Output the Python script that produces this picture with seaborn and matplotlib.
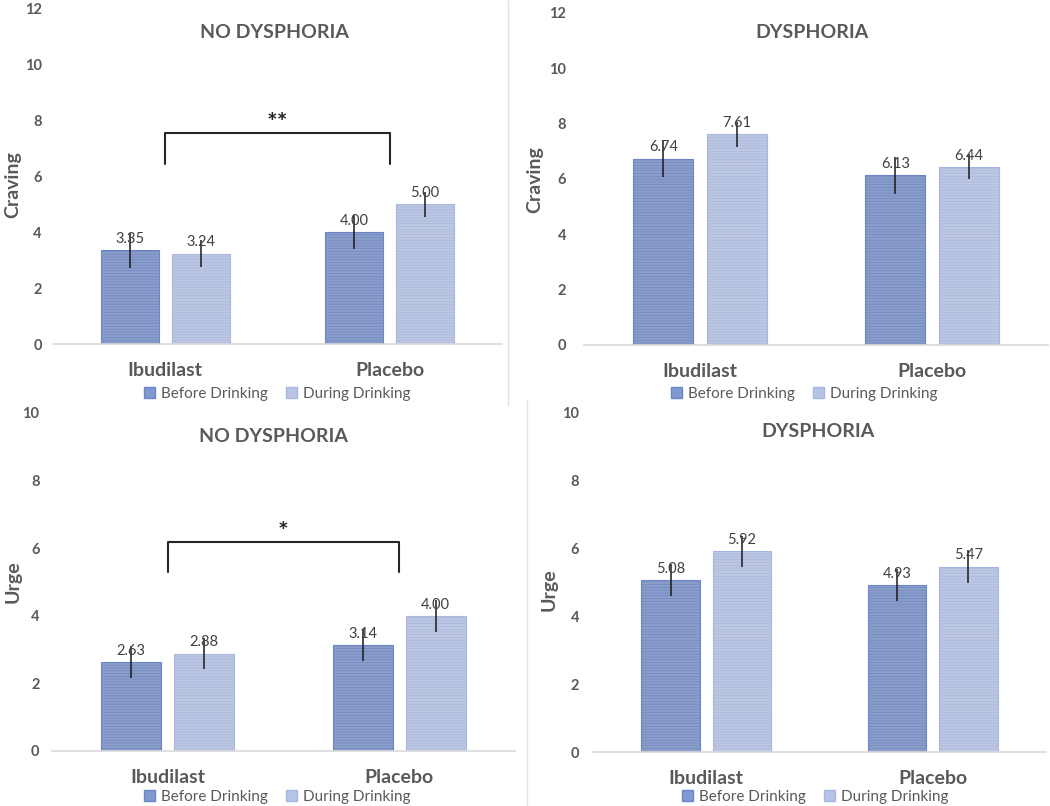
import matplotlib
matplotlib.use("Agg")
import matplotlib.pyplot as plt
import pandas as pd
import seaborn as sns
from matplotlib.patches import Patch

drugs = ["Ibudilast", "Placebo"]
timepoints = ["Before Drinking", "During Drinking"]

# one list per timepoint, values in drug order (Ibudilast, Placebo)
craving_no_dys = [[3.35, 4.00], [3.24, 5.00]]
craving_no_dys_err = [[0.64, 0.61], [0.49, 0.46]]
craving_dys = [[6.74, 6.13], [7.61, 6.44]]
craving_dys_err = [[0.68, 0.68], [0.46, 0.45]]
urge_no_dys = [[2.63, 3.14], [2.88, 4.00]]
urge_no_dys_err = [[0.47, 0.48], [0.46, 0.48]]
urge_dys = [[5.08, 4.93], [5.92, 5.47]]
urge_dys_err = [[0.48, 0.47], [0.46, 0.48]]

BEFORE = "#8199D2"
DURING = "#B7C4E7"
BEFORE_EDGE = "#6A86C6"
DURING_EDGE = "#A6B6E0"
GREY = "#595959"

W, H = 1050, 806

sns.set_theme(style="white")
plt.rcParams["font.family"] = ["Lato", "DejaVu Sans"]
plt.rcParams["hatch.linewidth"] = 0.45


def make_df(vals, errs):
    rows = []
    for t, tv, te in zip(timepoints, vals, errs):
        for d, v, e in zip(drugs, tv, te):
            rows.append({"Drug": d, "Time": t, "value": v, "err": e})
    return pd.DataFrame(rows)


def px(x, y):
    return x / W, 1 - y / H


def draw_panel(ax, df, ymax, ypad):
    sns.barplot(data=df, x="Drug", y="value", hue="Time", order=drugs,
                hue_order=timepoints, palette=[BEFORE, DURING], width=0.63,
                gap=0.18, errorbar=None, legend=False, ax=ax)
    bars = list(ax.containers)
    for cont, tp, ec in zip(bars, timepoints, [BEFORE_EDGE, DURING_EDGE]):
        sub = df[df.Time == tp].set_index("Drug").loc[drugs]
        for bar, e in zip(cont, sub["err"]):
            bar.set_edgecolor(ec)
            bar.set_linewidth(0.8)
            bar.set_hatch("------")
            ax.errorbar(bar.get_x() + bar.get_width() / 2, bar.get_height(),
                        yerr=e, color="#1a1a1a", lw=1.1, capsize=0)
        ax.bar_label(cont, fmt="%.2f", padding=3, fontsize=10.5, color="#404040")
    ax.set_xlim(-0.5, 1.5)
    ax.set_ylim(0, ymax)
    ax.set_yticks(range(0, ymax + 1, 2))
    ax.set_xlabel("")
    ax.set_ylabel("")
    for s in ["top", "left", "right"]:
        ax.spines[s].set_visible(False)
    ax.spines["bottom"].set_color("#D9D9D9")
    ax.spines["bottom"].set_linewidth(1.2)
    ax.tick_params(axis="y", length=0, pad=ypad, labelsize=10.5, labelcolor=GREY)
    ax.tick_params(axis="x", length=0, pad=13, labelsize=14, labelcolor=GREY)
    for lab in ax.get_xticklabels() + ax.get_yticklabels():
        lab.set_fontweight("bold")


def bracket(ax, y_top, y_bot, stars, y_star):
    ax.plot([0, 0, 1, 1], [y_bot, y_top, y_top, y_bot], color="#262626", lw=1.5)
    ax.text(0.5, y_star, stars, ha="center", va="center", fontsize=18,
            fontweight="bold", color="#262626")


fig = plt.figure(figsize=(W / 100, H / 100), dpi=100)

# axes boxes in pixels: left, right, baseline, top
boxes = [(53, 502, 344, 9), (584, 1048, 345, 13), (52, 515, 751, 413), (593, 1046, 752, 413)]
axes = []
for l, r, b, t in boxes:
    axes.append(fig.add_axes([l / W, 1 - b / H, (r - l) / W, (b - t) / H]))

draw_panel(axes[0], make_df(craving_no_dys, craving_no_dys_err), 12, 8)
draw_panel(axes[1], make_df(craving_dys, craving_dys_err), 12, 13)
draw_panel(axes[2], make_df(urge_no_dys, urge_no_dys_err), 10, 9)
draw_panel(axes[3], make_df(urge_dys, urge_dys_err), 10, 10)

bracket(axes[0], 7.55, 6.45, "**", 7.9)
bracket(axes[2], 6.18, 5.3, "*", 6.45)

titles = [("NO DYSPHORIA", 274, 32), ("DYSPHORIA", 812, 32),
          ("NO DYSPHORIA", 273, 437), ("DYSPHORIA", 818, 432)]
for txt, x, y in titles:
    fig.text(*px(x, y), txt, ha="center", va="center", fontsize=14,
             fontweight="bold", color=GREY)

ylabels = [("Craving", 13, 185), ("Craving", 535, 180), ("Urge", 13, 582), ("Urge", 549, 590)]
for txt, x, y in ylabels:
    fig.text(*px(x, y), txt, ha="center", va="center", rotation=90, fontsize=14,
             fontweight="bold", color=GREY)

handles = [Patch(facecolor=BEFORE, edgecolor=BEFORE_EDGE), Patch(facecolor=DURING, edgecolor=DURING_EDGE)]
for x, y in [(277, 394), (804, 394), (277, 797), (815, 797)]:
    fig.legend(handles, timepoints, loc="center", bbox_to_anchor=px(x, y), ncol=2,
               frameon=False, fontsize=11, labelcolor=GREY, handlelength=0.7,
               handleheight=0.7, handletextpad=0.4, columnspacing=1.2,
               borderpad=0, borderaxespad=0)

# faint chart borders between the pasted panels
fig.add_artist(plt.Line2D([508 / W, 508 / W], [1 - 405 / H, 1], color="#E3E3E3", lw=1))
fig.add_artist(plt.Line2D([527 / W, 527 / W], [0, 1 - 400 / H], color="#E3E3E3", lw=1))

fig.savefig("out.png", dpi=100)
